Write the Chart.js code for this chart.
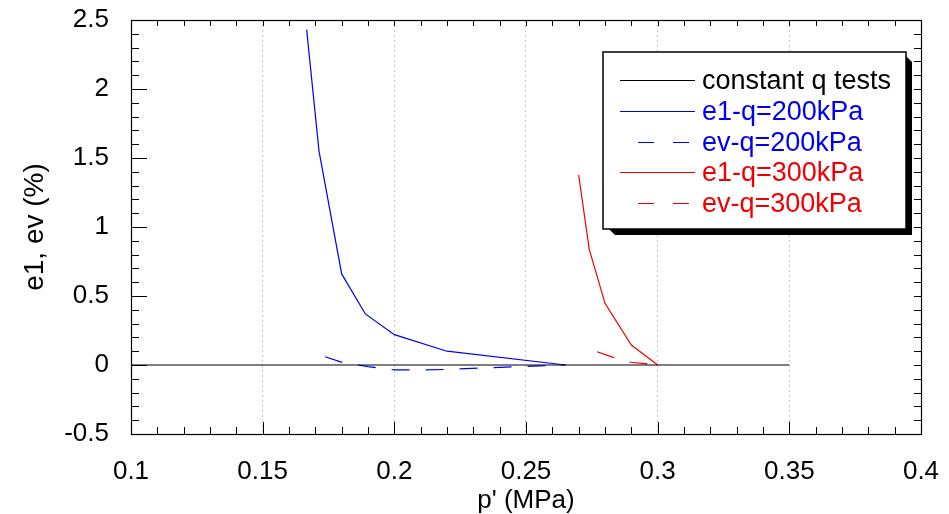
<!DOCTYPE html>
<html>
<head>
<meta charset="utf-8">
<script src="https://cdn.jsdelivr.net/npm/chart.js@4/dist/chart.umd.min.js"></script>
<style>
  html, body { margin: 0; padding: 0; background: #fff; }
</style>
</head>
<body>
<canvas id="strainChart" width="949" height="514"></canvas>
<script>
// series names (legend order)
const seriesLabels = ["constant q tests", "e1-q=200kPa", "ev-q=200kPa", "e1-q=300kPa", "ev-q=300kPa"];

// constant q reference line
const constP = [0.1, 0.35];
const constE = [0, 0];

// q = 200 kPa
const e1P200 = [0.1667, 0.1714, 0.180, 0.189, 0.200, 0.220, 0.265];
const e1V200 = [2.43, 1.55, 0.66, 0.37, 0.22, 0.10, 0.0];
const evP200 = [0.1737, 0.1806, 0.190, 0.200, 0.210, 0.220, 0.240, 0.255, 0.265];
const evV200 = [0.06, 0.017, -0.012, -0.035, -0.036, -0.032, -0.017, -0.007, 0.0];

// q = 300 kPa
const e1P300 = [0.270, 0.274, 0.280, 0.290, 0.300];
const e1V300 = [1.377, 0.84, 0.447, 0.145, 0.0];
const evP300 = [0.277, 0.2834, 0.2898, 0.297, 0.300];
const evV300 = [0.096, 0.053, 0.02, 0.007, 0.0];

// axis ticks
const xTicks = [0.1, 0.15, 0.2, 0.25, 0.3, 0.35, 0.4];
const yTicks = [-0.5, 0, 0.5, 1, 1.5, 2, 2.5];

const BLUE = '#0000f0';
const RED = '#f00000';
const FONT = 'Arial, "Liberation Sans", sans-serif';

function pts(xs, ys) {
  return xs.map((x, i) => ({ x: x, y: ys[i] }));
}

function line(label, data, color, dash) {
  return {
    label: label,
    data: data,
    showLine: true,
    borderColor: color,
    backgroundColor: color,
    borderWidth: 1.2,
    borderDash: dash || [],
    pointRadius: 0,
    tension: 0,
    fill: false
  };
}

// frame, inward ticks and the boxed legend with drop shadow
const framePlugin = {
  id: 'frame',
  afterDraw(chart) {
    const ctx = chart.ctx;
    const a = chart.chartArea;
    const xs = chart.scales.x;
    const ys = chart.scales.y;
    ctx.save();
    ctx.strokeStyle = '#000';
    ctx.lineWidth = 1.2;
    ctx.strokeRect(a.left + 0.5, a.top + 0.5, a.right - a.left, a.bottom - a.top);

    ctx.lineWidth = 1;
    ctx.beginPath();
    for (let i = -5; i <= 25; i++) {
      const py = Math.round(ys.getPixelForValue(i / 10)) + 0.5;
      const major = i % 5 === 0;
      ctx.moveTo(a.left, py); ctx.lineTo(a.left + (major ? 16 : 8), py);
      ctx.moveTo(a.right, py); ctx.lineTo(a.right - 7, py);
    }
    for (let i = 10; i <= 40; i++) {
      const px = Math.round(xs.getPixelForValue(i / 100)) + 0.5;
      const major = i % 5 === 0;
      ctx.moveTo(px, a.bottom); ctx.lineTo(px, a.bottom - (major ? 12 : 7));
      ctx.moveTo(px, a.top); ctx.lineTo(px, a.top + 6);
    }
    ctx.stroke();

    // legend
    const bx = a.right - 318, by = a.top + 32, bw = 303, bh = 177;
    ctx.fillStyle = '#000';
    ctx.beginPath();
    ctx.moveTo(bx + 6, by + bh);
    ctx.lineTo(bx + bw, by + bh);
    ctx.lineTo(bx + bw, by + 4);
    ctx.lineTo(bx + bw + 6, by + 10);
    ctx.lineTo(bx + bw + 6, by + bh + 6);
    ctx.lineTo(bx + 12, by + bh + 6);
    ctx.closePath();
    ctx.fill();
    ctx.fillStyle = '#fff';
    ctx.fillRect(bx, by, bw, bh);
    ctx.lineWidth = 1.5;
    ctx.strokeStyle = '#000';
    ctx.strokeRect(bx, by, bw, bh);

    ctx.font = '27px ' + FONT;
    ctx.textBaseline = 'middle';
    ctx.textAlign = 'left';
    chart.data.datasets.forEach((ds, i) => {
      const ry = Math.round(by + 28 + i * 30.8) + 0.5;
      ctx.strokeStyle = ds.borderColor;
      ctx.lineWidth = 1.2;
      const dashed = ds.borderDash && ds.borderDash.length;
      ctx.setLineDash(dashed ? [16, 19] : []);
      ctx.beginPath();
      ctx.moveTo(bx + (dashed ? 35 : 17), ry);
      ctx.lineTo(bx + (dashed ? 88 : 92), ry);
      ctx.stroke();
      ctx.setLineDash([]);
      ctx.fillStyle = ds.borderColor;
      ctx.fillText(ds.label, bx + 99, ry + 1);
    });
    ctx.restore();
  }
};

new Chart(document.getElementById('strainChart'), {
  type: 'scatter',
  data: {
    datasets: [
      line(seriesLabels[0], pts(constP, constE), '#000000'),
      line(seriesLabels[1], pts(e1P200, e1V200), BLUE),
      line(seriesLabels[2], pts(evP200, evV200), BLUE, [18, 16]),
      line(seriesLabels[3], pts(e1P300, e1V300), RED),
      line(seriesLabels[4], pts(evP300, evV300), RED, [18, 16])
    ]
  },
  options: {
    responsive: false,
    animation: false,
    layout: { padding: { top: 20, right: 28, left: 0, bottom: 0 } },
    plugins: {
      legend: { display: false },
      tooltip: { enabled: false }
    },
    scales: {
      x: {
        type: 'linear',
        min: 0.1,
        max: 0.4,
        afterBuildTicks: s => { s.ticks = xTicks.map(v => ({ value: v })); },
        afterFit: s => {
          s.height = 80;
          s.paddingLeft = 0; s.paddingRight = 0; s.paddingTop = 0; s.paddingBottom = 0;
        },
        ticks: {
          color: '#000',
          font: { family: FONT, size: 26 },
          padding: 22,
          maxRotation: 0,
          callback: v => String(+v.toFixed(2))
        },
        grid: {
          drawTicks: false,
          lineWidth: 1,
          color: c => {
            const v = c.tick ? c.tick.value : 0.1;
            return (Math.abs(v - 0.1) < 1e-6 || Math.abs(v - 0.4) < 1e-6) ? 'rgba(0,0,0,0)' : '#c8c8c8';
          }
        },
        border: { display: false, dash: [2, 3] },
        title: {
          display: true,
          text: "p' (MPa)",
          color: '#000',
          font: { family: FONT, size: 26, lineHeight: 1 },
          padding: { top: 0, bottom: 0 }
        }
      },
      y: {
        type: 'linear',
        min: -0.5,
        max: 2.5,
        afterBuildTicks: s => { s.ticks = yTicks.map(v => ({ value: v })); },
        afterFit: s => {
          s.width = 131;
          s.paddingLeft = 0; s.paddingRight = 0; s.paddingTop = 0; s.paddingBottom = 0;
        },
        ticks: {
          color: '#000',
          font: { family: FONT, size: 26 },
          padding: 22,
          callback: v => String(+v.toFixed(1))
        },
        grid: { display: false, drawTicks: false },
        border: { display: false },
        title: {
          display: true,
          text: 'e1, ev (%)',
          color: '#000',
          font: { family: FONT, size: 28, lineHeight: 1.2 },
          padding: { top: 18, bottom: 0 }
        }
      }
    }
  },
  plugins: [framePlugin]
});
</script>
</body>
</html>
